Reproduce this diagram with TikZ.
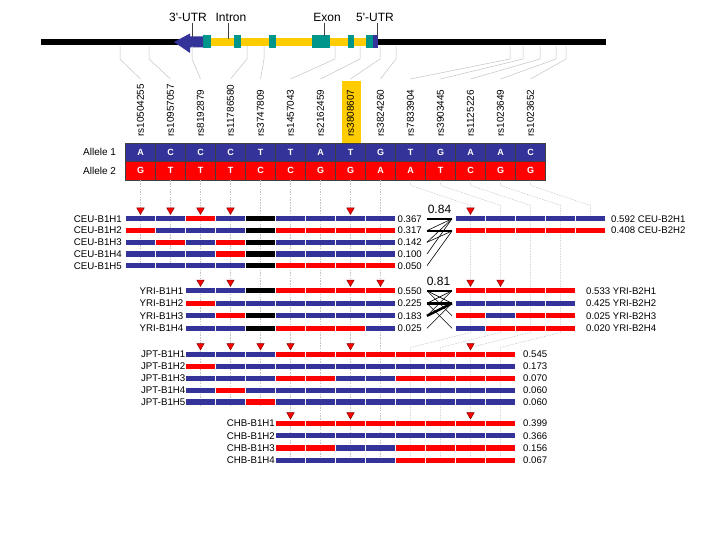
\documentclass[tikz,border=0pt]{standalone}
\usepackage{fontspec}
\setmainfont{Liberation Sans}
\definecolor{ablue}{RGB}{51,51,153}
\definecolor{ared}{RGB}{255,0,0}
\definecolor{hB}{RGB}{51,51,153}
\definecolor{hR}{RGB}{255,0,0}
\definecolor{hK}{RGB}{0,0,0}
\definecolor{teal2}{RGB}{0,150,140}
\definecolor{gold2}{RGB}{255,204,0}
\definecolor{guidegray}{RGB}{195,195,195}
\definecolor{mkred}{RGB}{130,0,0}
\newcommand{\hapbar}[3]{%
  \foreach \c [count=\k from 0] in {#3}{%
    \fill[h\c] ({#1+30*\k+0.6},{#2-2.6}) rectangle ({#1+30*\k+29.4},{#2+2.6});
  }%
}
\newcommand{\mk}[2]{\filldraw[fill=ared, draw=mkred, line width=0.5pt] ({#1-3.7},{#2-10.8}) -- ({#1+3.7},{#2-10.8}) -- (#1,{#2-4.5}) -- cycle;}
\begin{document}
\begin{tikzpicture}[x=1pt,y=-1pt,
  guide/.style={draw=guidegray, line width=0.5pt},
  hguide/.style={draw=guidegray, line width=0.5pt, dash pattern=on 1.5pt off 1.2pt},
  genelbl/.style={inner sep=1.5pt, font=\fontsize{12}{14}\selectfont},
  snp/.style={rotate=90, anchor=west, inner sep=0pt, font=\fontsize{10}{12}\selectfont},
  rowlbl/.style={anchor=east, inner sep=0pt, font=\fontsize{9.7}{11}\selectfont},
  freq/.style={anchor=west, inner sep=0pt, font=\fontsize{9.6}{11}\selectfont},
  al1/.style={draw=black!75, line width=0.4pt, fill=ablue, text=white, font=\bfseries\fontsize{9}{10}\selectfont, minimum width=30pt, minimum height=18.5pt, inner sep=0pt},
  al2/.style={al1, fill=ared, minimum height=19pt},
  ld/.style={inner sep=0pt, font=\fontsize{12}{14}\selectfont},
  thicklink/.style={line width=2.4pt},
  thinlink/.style={line width=0.6pt}]
\useasboundingbox (0,0) rectangle (720,540);

% ---------- gene ----------
\fill[black] (41,39) rectangle (606,45);
\fill[gold2] (211,38) rectangle (366,46);
\foreach \a/\b in {203/211,234/241,269/276,312/330,348/354,366/373}
  {\fill[teal2] (\a,35.5) rectangle (\b,48.5);}
\fill[ablue] (373,35.5) rectangle (378,48.5);
\fill[ablue] (174,42) -- (190,33.5) -- (190,36.5) -- (203,36.5) -- (203,47.5) -- (190,47.5) -- (190,53) -- cycle;

\node[genelbl] (l3) at (188,17) {3\textquotesingle-UTR};
\node[genelbl] (lin) at (231,17) {Intron};
\node[genelbl] (lex) at (327,17) {Exon};
\node[genelbl] (l5) at (375,17) {5\textquotesingle-UTR};
\coordinate (t3) at (192,37);
\coordinate (tin) at (228,39);
\coordinate (tex) at (324,36);
\coordinate (t5) at (377.7,36);
\foreach \n/\tt in {l3/t3,lin/tin,lex/tex,l5/t5}
  {\draw[black!75, line width=0.6pt] (\n.south -| \tt) -- (\tt);}

% ---------- SNP labels ----------
\fill[gold2] (342,81.5) rectangle (360.5,143);
\foreach \n [count=\i from 0] in {rs10504255,rs10957057,rs8192879,rs11786580,rs3747809,rs1457043,rs2162459,rs3808607,rs3824260,rs7833904,rs3903445,rs1125226,rs1023649,rs1023652}
  {\node[snp] (s\i) at ({140.5+30*\i},137) {\n};}

% gene -> label guides
\foreach \g [count=\i from 0] in {120,149,192,247,264,335,360,380,396,510,523,540,556,566}{
  \coordinate (gs\i) at (\g,46);
  \coordinate (st\i) at ({140.5+30*\i},79);
  \draw[guide] (gs\i) -- (\g,59) -- (st\i);
}

% ---------- alleles ----------
\node[anchor=west, inner sep=0pt, font=\fontsize{10}{12}\selectfont] (lab1) at (83,152) {Allele 1};
\node[anchor=west, inner sep=0pt, font=\fontsize{10}{12}\selectfont] (lab2) at (83,170.75) {Allele 2};
\foreach \l [count=\i from 0] in {A,C,C,C,T,T,A,T,G,T,G,A,A,C}
  {\node[al1] (a1-\i) at ({140.5+30*\i},152) {\l};}
\foreach \l [count=\i from 0] in {G,T,T,T,C,C,G,G,A,A,T,C,G,G}
  {\node[al2] (a2-\i) at ({140.5+30*\i},170.75) {\l};}

% allele -> haplotype guides
\foreach \i in {0,1} {\draw[hguide] (a2-\i.south) -- ++(0,87);}
\foreach \i in {2,3,4} {\draw[hguide] (a2-\i.south) -- ++(0,225);}
\foreach \i in {5,6,7,8} {\draw[hguide] (a2-\i.south) -- ++(0,282);}
\foreach \i in {9,10,11,12} {\draw[hguide] (a2-\i.south) -- ++(0,5) -- ++(60,20) -- ++(0,127) -- ++(-60,15) -- ++(0,115);}
\draw[hguide] (a2-13.south) -- ++(0,5) -- ++(60,20) -- ++(0,16);

% ---------- CEU ----------
\hapbar{125.5}{218.8}{B,B,R,B,K,B,B,B,B}
\hapbar{125.5}{230.6}{R,B,B,B,K,R,R,R,R}
\hapbar{125.5}{242.3}{B,R,B,R,K,B,B,B,B}
\hapbar{125.5}{254.0}{B,B,B,R,K,B,B,B,B}
\hapbar{125.5}{265.7}{B,B,B,B,K,R,R,R,R}
\node[rowlbl] (ceu1) at (122,218.8) {CEU-B1H1};
\node[rowlbl] (ceu2) at (122,230.6) {CEU-B1H2};
\node[rowlbl] (ceu3) at (122,242.3) {CEU-B1H3};
\node[rowlbl] (ceu4) at (122,254.0) {CEU-B1H4};
\node[rowlbl] (ceu5) at (122,265.7) {CEU-B1H5};
\node[freq] (fceu1) at (397.5,218.8) {0.367};
\node[freq] (fceu2) at (397.5,230.6) {0.317};
\node[freq] (fceu3) at (397.5,242.3) {0.142};
\node[freq] (fceu4) at (397.5,254.0) {0.100};
\node[freq] (fceu5) at (397.5,265.7) {0.050};
\foreach \yy [count=\j] in {218.8,230.6,242.3,254.0,265.7}
  {\coordinate (cL\j) at (427,\yy);}
\hapbar{455.5}{218.8}{B,B,B,B,B}
\hapbar{455.5}{230.6}{R,R,R,R,R}
\node[freq] (ceuB21) at (611,218.8) {0.592 CEU-B2H1};
\node[freq] (ceuB22) at (611,230.6) {0.408 CEU-B2H2};
\coordinate (cR1) at (452,218.8);
\coordinate (cR2) at (452,231);
\node[ld] (ld1) at (439.5,209) {0.84};
\draw[thicklink] (cL1) -- (cR1);
\draw[thicklink] ([yshift=-0.4pt]cL2) -- (cR2);
\draw[thinlink] (cL2) -- (cR1);
\draw[thinlink] (cL3) -- (cR1);
\draw[thinlink] (cL4) -- (cR1);
\draw[thinlink] (cL3) -- (cR2);
\draw[thinlink] (cL5) -- (cR2);

% ---------- YRI ----------
\hapbar{185.5}{290.8}{B,B,K,R,R,R,R}
\hapbar{185.5}{303.3}{R,B,B,B,B,B,B}
\hapbar{185.5}{315.8}{B,R,K,B,B,B,B}
\hapbar{185.5}{328.3}{B,B,K,R,R,R,B}
\node[rowlbl] (yri1) at (183.5,290.8) {YRI-B1H1};
\node[rowlbl] (yri2) at (183.5,303.3) {YRI-B1H2};
\node[rowlbl] (yri3) at (183.5,315.8) {YRI-B1H3};
\node[rowlbl] (yri4) at (183.5,328.3) {YRI-B1H4};
\node[freq] (fyri1) at (397.5,290.8) {0.550};
\node[freq] (fyri2) at (397.5,303.3) {0.225};
\node[freq] (fyri3) at (397.5,315.8) {0.183};
\node[freq] (fyri4) at (397.5,328.3) {0.025};
\foreach \yy [count=\j] in {290.8,303.3,315.8,328.3}{
  \coordinate (yL\j) at (427,\yy);
  \coordinate (yR\j) at (452,\yy);
}
\hapbar{455.5}{290.8}{R,R,R,R}
\hapbar{455.5}{303.3}{B,B,B,B}
\hapbar{455.5}{315.8}{R,B,R,R}
\hapbar{455.5}{328.3}{B,R,R,R}
\node[freq] (yriB21) at (586,290.8) {0.533 YRI-B2H1};
\node[freq] (yriB22) at (586,303.3) {0.425 YRI-B2H2};
\node[freq] (yriB23) at (586,315.8) {0.025 YRI-B2H3};
\node[freq] (yriB24) at (586,328.3) {0.020 YRI-B2H4};
\node[ld] (ld2) at (438.5,281) {0.81};
\draw[thicklink] (yL1) -- (yR1);
\draw[thicklink] (yL2) -- (yR2);
\draw[thicklink] (yL3) -- (yR2);
\draw[thinlink] (yL1) -- (yR2);
\draw[thinlink] (yL2) -- (yR1);
\draw[thinlink] (yL1) -- (yR3);
\draw[thinlink] (yL2) -- (yR4);
\draw[thinlink] (yL3) -- (yR1);
\draw[thinlink] (yL4) -- (yR2);

% ---------- JPT ----------
\hapbar{185.5}{354.3}{B,B,B,R,R,R,R,R,R,R,R}
\hapbar{185.5}{366.2}{R,B,B,B,B,B,B,B,B,B,B}
\hapbar{185.5}{378.2}{B,B,B,R,R,B,B,R,R,R,R}
\hapbar{185.5}{390.1}{B,R,B,B,B,B,B,B,B,B,B}
\hapbar{185.5}{402.0}{B,B,R,B,B,B,B,B,B,B,B}
\node[rowlbl] (jpt1) at (185.5,354.3) {JPT-B1H1};
\node[rowlbl] (jpt2) at (185.5,366.2) {JPT-B1H2};
\node[rowlbl] (jpt3) at (185.5,378.2) {JPT-B1H3};
\node[rowlbl] (jpt4) at (185.5,390.1) {JPT-B1H4};
\node[rowlbl] (jpt5) at (185.5,402.0) {JPT-B1H5};
\node[freq] (fjpt1) at (523,354.3) {0.545};
\node[freq] (fjpt2) at (523,366.2) {0.173};
\node[freq] (fjpt3) at (523,378.2) {0.070};
\node[freq] (fjpt4) at (523,390.1) {0.060};
\node[freq] (fjpt5) at (523,402.0) {0.060};

% ---------- CHB ----------
\hapbar{275.5}{423.5}{R,R,R,R,R,R,R,R}
\hapbar{275.5}{435.8}{B,B,B,B,B,B,B,B}
\hapbar{275.5}{448.0}{R,R,B,B,R,R,R,R}
\hapbar{275.5}{460.2}{B,B,B,B,R,R,R,R}
\node[rowlbl] (chb1) at (275,423.5) {CHB-B1H1};
\node[rowlbl] (chb2) at (275,435.8) {CHB-B1H2};
\node[rowlbl] (chb3) at (275,448.0) {CHB-B1H3};
\node[rowlbl] (chb4) at (275,460.2) {CHB-B1H4};
\node[freq] (fchb1) at (523,423.5) {0.399};
\node[freq] (fchb2) at (523,435.8) {0.366};
\node[freq] (fchb3) at (523,448.0) {0.156};
\node[freq] (fchb4) at (523,460.2) {0.067};

% ---------- markers ----------
\foreach \x in {140.5,170.5,200.5,230.5,350.5,470.5} {\mk{\x}{218.8}}
\foreach \x in {200.5,230.5,350.5,380.5,470.5,500.5} {\mk{\x}{290.8}}
\foreach \x in {200.5,230.5,260.5,290.5,350.5,470.5} {\mk{\x}{354.3}}
\foreach \x in {290.5,350.5,470.5} {\mk{\x}{423.5}}
\end{tikzpicture}
\end{document}
